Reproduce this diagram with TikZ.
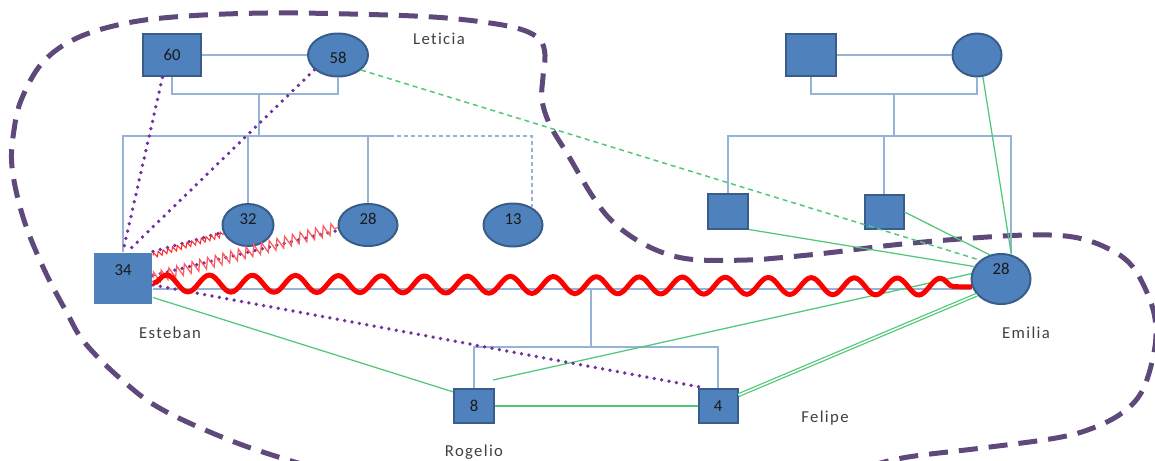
\documentclass[tikz,border=0pt]{standalone}
\usepackage{fontspec}
\setmainfont{Carlito}
\newfontfamily\lblfont[LetterSpace=8,Ligatures=NoCommon]{Carlito}
\usetikzlibrary{decorations.pathmorphing,shapes.geometric}
\definecolor{nodefill}{RGB}{79,129,189}
\definecolor{nodeedge}{RGB}{56,93,138}
\definecolor{pedblue}{RGB}{149,179,215}
\definecolor{grn}{RGB}{80,200,120}
\definecolor{purp}{RGB}{112,48,160}
\definecolor{blobc}{RGB}{95,73,122}
\definecolor{lblgray}{RGB}{64,64,64}
\begin{document}
\begin{tikzpicture}[x=0.02cm,y=-0.02cm,
  numfont/.style={font=\fontsize{9.5}{10}\selectfont,text=black!90},
  male/.style={rectangle,fill=nodefill,draw=nodeedge,line width=0.04cm,inner sep=0pt,numfont},
  female/.style={ellipse,fill=nodefill,draw=nodeedge,line width=0.04cm,inner sep=0pt,numfont},
  raised/.style={text height=0.2cm,text depth=#1},
  ped/.style={draw=pedblue,line width=0.03cm},
  pedDash/.style={ped,dash pattern=on 0.08cm off 0.06cm},
  grnline/.style={draw=grn,line width=0.025cm},
  grnDash/.style={grnline,line width=0.03cm,dash pattern=on 0.1cm off 0.08cm},
  dots/.style={draw=purp,line width=0.075cm,line cap=round,dash pattern=on 0pt off 0.15cm},
  blob/.style={draw=blobc,line width=0.1cm,dash pattern=on 0.38cm off 0.22cm},
  lbl/.style={font=\lblfont\fontsize{9.5}{11}\selectfont,text=lblgray,inner sep=0pt}]
\useasboundingbox (0,0) rectangle (1155,460);
\clip (0,0) rectangle (1155,460);

% family boundary
\draw[blob] plot[smooth,tension=0.6] coordinates {
 (308,466) (237,443) (163,410) (122,380) (85,343) (67,313) (43,267) (23,217)
 (12,167) (14,130) (22,98) (43,62) (77,38) (127,23) (187,16) (267,13) (350,14)
 (433,17) (490,23) (523,30) (540,40) (545,55) (543,77) (542,100) (550,125)
 (568,155) (593,197) (613,222) (640,242) (670,255) (700,260) (747,260) (777,258)
 (827,253) (893,245) (960,239) (1027,235) (1073,237) (1107,248) (1132,266)
 (1150,300) (1156,330) (1152,362) (1141,393) (1122,413) (1093,428) (1056,438)
 (982,448) (908,457) (870,466)};

% persons
\node[male,minimum width=1.16cm,minimum height=0.86cm] (n60) at (172,55) {60};
\node[female,minimum width=1.2cm,minimum height=0.86cm,text height=0.32cm,text depth=0cm] (n58) at (338,55) {58};
\node[male,minimum width=1.0cm,minimum height=0.86cm] (gpm) at (811,55) {};
\node[female,minimum width=0.98cm,minimum height=0.86cm] (gpf) at (977,55) {};
\node[female,minimum width=1.02cm,minimum height=0.84cm,raised=0.24cm] (n32) at (248,225) {32};
\node[female,minimum width=1.18cm,minimum height=0.84cm,raised=0.24cm] (n28) at (368,225) {28};
\node[female,minimum width=1.18cm,minimum height=0.86cm,raised=0.24cm] (n13) at (513,225) {13};
\node[male,draw=none,minimum width=1.16cm,minimum height=1.02cm,raised=0.32cm] (n34) at (123,278) {34};
\node[male,minimum width=0.8cm,minimum height=0.7cm] (sq1) at (728,211) {};
\node[male,minimum width=0.78cm,minimum height=0.68cm] (sq2) at (884,212) {};
\node[female,minimum width=1.18cm,minimum height=1.0cm,raised=0.4cm] (em) at (1001,279) {28};
\node[male,minimum width=0.8cm,minimum height=0.68cm] (n8) at (474,406) {8};
\node[male,minimum width=0.78cm,minimum height=0.68cm] (n4) at (718,406) {4};

% labels
\node[lbl] (tLeticia) at (439,39) {Leticia};
\node[lbl] (tEsteban) at (170,333) {Esteban};
\node[lbl] (tEmilia) at (1026,333) {Emilia};
\node[lbl] (tFelipe) at (825,418) {Felipe};
\node[lbl] (tRogelio) at (474,452) {Rogelio};

% pedigree, left family
\coordinate (d1) at (259,94);
\coordinate (s1) at (259,136);
\coordinate (sibR) at (390,136);
\draw[ped] (n60) -- (n58);
\draw[ped] (n60.south) |- (d1) -| (n58.south);
\draw[ped] (d1) -- (s1);
\draw[ped] (n34.north) |- (sibR);
\draw[ped] (n32.north |- s1) -- (n32.north);
\draw[ped] (n28.north |- s1) -- (n28.north);
\draw[pedDash] (sibR) -| (n13.43);

% pedigree, right family
\coordinate (d2) at (894,94);
\coordinate (s2) at (894,136);
\draw[ped] (gpm) -- (gpf);
\draw[ped] (gpm.south) |- (d2) -| (gpf.south);
\draw[ped] (d2) -- (s2);
\draw[ped] (sq1.north) |- (s2) -| ([xshift=0.2cm]em.north);
\draw[ped] (sq2.north |- s2) -- (sq2.north);

% couple and children
\coordinate (m) at (591,289);
\coordinate (c) at (591,347);
\draw[ped] (n34.east |- m) -- (em.west |- m);
\draw[ped] (m) -- (c);
\draw[ped] (n8.north) |- (c) -| (n4.north);

% green relations
\draw[grnDash] (n58.-33) -- (em.138);
\draw[grnline] (gpf.-75) -- (em.67);
\draw[grnline] (sq1.south east) -- (em.155);
\draw[grnline] (sq2.east) -- (em.115);
\draw[grnline] (n34.-33) -- (n8.146);
\draw[grnline] (n8.east) -- (n4.west);
\coordinate (g8) at (493,380);
\draw[grnline] (g8) -- (em.170);
\draw[grnline,double=white,double distance=0.03cm,line width=0.025cm] (n4.28) -- (em.213);

% purple dotted relations
\draw[dots] (n60.-113) -- (n34.north);
\draw[dots] (n58.212) -- (n34.80);
\draw[dots] (n34.north east) -- (n32.196);
\draw[dots] (n34.5) -- (n28.190);
\draw[dots] (n34.-13) -- (n4.125);

% red conflict relations
\draw[red!85,line width=0.02cm,decorate,decoration={zigzag,segment length=0.1cm,amplitude=0.05cm}]
  ([yshift=-0.08cm]n34.north east) -- (n32.200);
\draw[red!65,line width=0.025cm,decorate,decoration={zigzag,segment length=0.16cm,amplitude=0.11cm}]
  (n34.0) -- (n28.185);
\draw[red,line width=0.1cm,line join=round,decorate,decoration={snake,segment length=0.86cm,amplitude=0.17cm}]
  (n34.-10) -- (em.195);
\end{tikzpicture}
\end{document}
